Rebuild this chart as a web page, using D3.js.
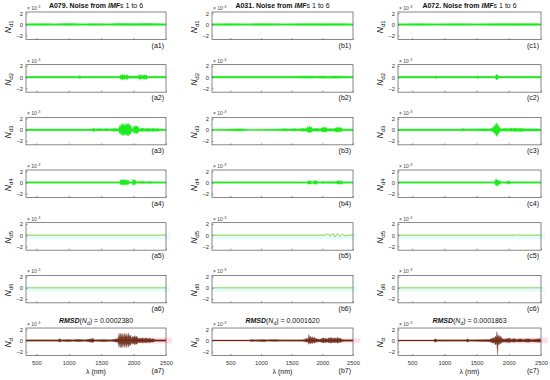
<!DOCTYPE html>
<html>
<head>
<meta charset="utf-8">
<script src="https://cdn.jsdelivr.net/npm/d3@7"></script>
<style>
  body { margin: 0; background: #fff; }
  svg { font-family: "Liberation Sans", Arial, sans-serif; }
</style>
</head>
<body>
<div id="chart"></div>
<script>
// ---- data (values in units of 1e-3) ----
const columns = ["a", "b", "c"];
const sampleNames = ["A079", "A031", "A072"];
const rmsdValues = ["0.0002380", "0.0001620", "0.0001863"];
const xStarts = [340, 200, 280];
const xTicks = [500, 1000, 1500, 2000, 2500];
const yTicks = [-2, 0, 2];

// envelopes of the noise bands: [wavelength, upper, lower]
const noiseA = [
  [[340,.15,-.15],[600,.2,-.18],[800,.15,-.15],[1000,.22,-.2],[1200,.15,-.15],[1400,.2,-.2],[1600,.15,-.15],[1800,.22,-.2],[2000,.18,-.18],[2200,.22,-.2],[2500,.15,-.15]],
  [[340,.15,-.15],[1150,.15,-.15],[1170,.3,-.28],[1190,.15,-.15],[1790,.15,-.15],[1800,.45,-.4],[1812,.25,-.3],[1825,.55,-.5],[1840,.3,-.3],[1855,.5,-.45],[1870,.2,-.2],[1900,.5,-.45],[1915,.25,-.25],[1930,.2,-.2],[2070,.2,-.2],[2085,.45,-.4],[2100,.3,-.3],[2115,.5,-.45],[2130,.2,-.2],[2165,.45,-.4],[2180,.3,-.25],[2195,.45,-.45],[2215,.15,-.15],[2500,.15,-.15]],
  [[340,.15,-.15],[1360,.15,-.15],[1385,.35,-.35],[1410,.15,-.15],[1480,.22,-.2],[1520,.15,-.15],[1580,.25,-.2],[1640,.15,-.15],[1700,.25,-.25],[1770,.2,-.2],[1785,.8,-.7],[1795,.5,-.45],[1805,1.0,-.95],[1815,.7,-.6],[1825,1.15,-1.0],[1835,.8,-.75],[1845,1.1,-1.1],[1855,.7,-.6],[1865,1.0,-.95],[1875,.8,-.7],[1885,1.2,-1.1],[1895,.8,-.8],[1905,1.15,-1.05],[1915,.9,-.8],[1925,1.2,-1.15],[1940,.7,-.7],[1955,.9,-.8],[1970,.3,-.3],[1990,.2,-.2],[2005,.7,-.6],[2020,.55,-.5],[2035,.75,-.7],[2050,.6,-.55],[2065,.7,-.65],[2085,.2,-.2],[2140,.35,-.3],[2170,.2,-.2],[2220,.3,-.3],[2260,.2,-.2],[2300,.3,-.28],[2340,.2,-.2],[2370,.3,-.3],[2400,.15,-.15],[2500,.15,-.15]],
  [[340,.12,-.12],[1790,.12,-.12],[1800,.55,-.4],[1812,.35,-.3],[1825,.6,-.5],[1840,.4,-.35],[1855,.55,-.45],[1870,.35,-.3],[1885,.55,-.45],[1900,.3,-.3],[1915,.45,-.4],[1935,.15,-.15],[1980,.15,-.15],[1990,.6,-.5],[2005,.4,-.35],[2020,.55,-.45],[2040,.15,-.15],[2150,.22,-.2],[2190,.15,-.15],[2260,.2,-.2],[2300,.15,-.15],[2500,.12,-.12]],
  null,
  null,
  [[340,.12,-.12],[830,.12,-.12],[860,.3,-.3],[890,.15,-.15],[1000,.2,-.2],[1060,.15,-.15],[1150,.22,-.2],[1250,.15,-.15],[1375,.35,-.35],[1400,.15,-.15],[1550,.2,-.2],[1650,.15,-.15],[1760,.3,-.3],[1775,1.3,-1.2],[1785,.4,-.5],[1795,1.35,-1.3],[1805,.5,-.4],[1815,1.2,-1.35],[1825,.6,-.5],[1835,1.3,-1.2],[1850,.5,-.6],[1865,1.35,-1.3],[1880,.6,-.5],[1895,1.25,-1.3],[1910,.5,-.5],[1925,1.35,-1.2],[1940,.6,-.6],[1955,1.0,-.9],[1970,.3,-.3],[1990,.8,-.7],[2005,.5,-.4],[2020,.9,-.8],[2035,.5,-.5],[2050,.8,-.7],[2070,.3,-.3],[2100,.45,-.4],[2120,.3,-.3],[2140,.5,-.45],[2160,.3,-.3],[2190,.45,-.4],[2220,.3,-.3],[2250,.4,-.35],[2280,.25,-.25],[2300,.35,-.3],[2330,.15,-.15],[2500,.12,-.12]]
];
const noiseB = [
  [[200,.15,-.15],[500,.18,-.18],[800,.15,-.15],[1100,.2,-.18],[1400,.15,-.15],[1700,.2,-.2],[2000,.2,-.18],[2300,.2,-.2],[2500,.15,-.15]],
  [[200,.15,-.15],[1000,.17,-.17],[1500,.16,-.16],[1800,.2,-.2],[1900,.17,-.17],[2000,.22,-.2],[2100,.18,-.18],[2200,.22,-.2],[2400,.17,-.17],[2500,.15,-.15]],
  [[200,.12,-.12],[500,.15,-.15],[650,.2,-.2],[800,.12,-.12],[1300,.15,-.15],[1400,.25,-.2],[1450,.15,-.15],[1550,.22,-.2],[1600,.15,-.15],[1700,.28,-.25],[1740,.2,-.2],[1760,.6,-.5],[1775,.35,-.35],[1790,.7,-.6],[1805,.4,-.35],[1820,.55,-.5],[1840,.2,-.2],[1900,.28,-.25],[1960,.2,-.2],[2030,.5,-.45],[2045,.3,-.3],[2060,.55,-.5],[2080,.2,-.2],[2140,.25,-.25],[2190,.2,-.2],[2240,.45,-.45],[2255,.3,-.3],[2270,.5,-.45],[2285,.3,-.3],[2300,.45,-.4],[2330,.15,-.15],[2500,.15,-.15]],
  [[200,.12,-.12],[1760,.12,-.12],[1775,.4,-.35],[1790,.25,-.25],[1805,.38,-.3],[1820,.2,-.2],[1850,.15,-.15],[1870,.4,-.35],[1885,.25,-.25],[1900,.4,-.38],[1920,.15,-.15],[2000,.15,-.15],[2010,.32,-.25],[2025,.15,-.15],[2150,.2,-.2],[2200,.15,-.15],[2280,.38,-.3],[2295,.2,-.2],[2310,.38,-.35],[2335,.15,-.15],[2500,.12,-.12]],
  null,
  null,
  [[200,.1,-.1],[800,.1,-.1],[850,.2,-.18],[900,.12,-.12],[1050,.2,-.2],[1100,.12,-.12],[1150,.18,-.15],[1250,.2,-.18],[1300,.12,-.12],[1700,.15,-.15],[1750,.4,-.3],[1765,.2,-.2],[1780,1.1,-.7],[1792,.4,-.4],[1805,.8,-.6],[1820,.35,-.35],[1835,.7,-.6],[1850,.4,-.3],[1870,.6,-.5],[1890,.3,-.3],[1910,.3,-.25],[1960,.2,-.2],[2020,.5,-.45],[2035,.25,-.25],[2050,.45,-.4],[2080,.25,-.25],[2110,.55,-.45],[2125,.3,-.3],[2140,.6,-.5],[2170,.3,-.3],[2200,.5,-.4],[2225,.3,-.3],[2250,.6,-.5],[2270,.3,-.3],[2290,.45,-.35],[2320,.2,-.2],[2360,.15,-.15],[2500,.12,-.12]]
];
const noiseC = [
  [[280,.15,-.15],[600,.18,-.18],[900,.15,-.15],[1200,.2,-.18],[1500,.15,-.15],[1800,.2,-.2],[2100,.18,-.18],[2400,.2,-.2],[2500,.15,-.15]],
  [[280,.15,-.15],[850,.15,-.15],[870,.25,-.25],[890,.15,-.15],[1500,.15,-.15],[1520,.25,-.25],[1540,.15,-.15],[1790,.15,-.15],[1800,.4,-.35],[1812,.5,-.5],[1825,.45,-.4],[1840,.15,-.15],[2500,.15,-.15]],
  [[280,.15,-.15],[1250,.15,-.15],[1300,.22,-.2],[1340,.15,-.15],[1450,.18,-.18],[1600,.2,-.2],[1700,.18,-.18],[1745,.3,-.25],[1760,.6,-.5],[1772,.4,-.4],[1785,1.0,-.85],[1795,.7,-.6],[1805,1.3,-1.1],[1815,.9,-1.2],[1825,1.1,-.9],[1835,.6,-.7],[1845,.8,-.7],[1860,.3,-.3],[1900,.2,-.2],[1950,.28,-.25],[2000,.2,-.2],[2030,.35,-.3],[2060,.25,-.25],[2100,.35,-.3],[2140,.25,-.25],[2200,.3,-.3],[2250,.2,-.2],[2440,.2,-.2],[2500,.15,-.15]],
  [[280,.12,-.12],[1780,.12,-.12],[1790,.6,-.5],[1800,.3,-.35],[1810,.7,-.65],[1820,.35,-.4],[1830,.5,-.7],[1845,.3,-.3],[1860,.35,-.3],[1880,.15,-.15],[1960,.15,-.15],[1975,.3,-.25],[1990,.18,-.18],[2010,.3,-.3],[2030,.15,-.15],[2200,.15,-.15],[2500,.12,-.12]],
  null,
  null,
  [[280,.1,-.1],[830,.1,-.1],[860,.3,-.3],[890,.12,-.12],[1000,.15,-.15],[1100,.12,-.12],[1340,.15,-.15],[1360,.3,-.3],[1390,.12,-.12],[1700,.2,-.2],[1760,.5,-.5],[1775,.3,-.3],[1790,.8,-.8],[1805,.5,-.5],[1815,1.6,-.9],[1825,.9,-2.6],[1835,.7,-.6],[1850,1.0,-.8],[1862,.4,-.4],[1875,.8,-.6],[1895,.3,-.3],[1930,.25,-.25],[2020,.4,-.35],[2040,.2,-.2],[2080,.35,-.3],[2120,.2,-.2],[2180,.3,-.25],[2220,.2,-.2],[2300,.3,-.3],[2350,.2,-.2],[2420,.25,-.25],[2480,.3,-.3],[2500,.15,-.15]]
];
// smooth residual modes (rows 5 and 6): [wavelength, value]
const smoothA = [[[340,0],[2500,0]], [[340,0],[2500,0]]];
const smoothB = [
  [[200,0],[2050,0],[2090,.25],[2130,-.2],[2170,.3],[2210,-.35],[2250,.3],[2290,-.3],[2330,.2],[2370,-.15],[2410,0],[2500,0]],
  [[200,0],[2500,0]]
];
const smoothC = [[[280,0],[2120,0],[2135,.12],[2150,0],[2500,0]], [[280,0],[2500,0]]];
// shaded spread of the summed noise (row 7): [from, to, half-width]
const spreadBands = [[1720, 2590, .55], [1680, 2620, .4], [1740, 2600, .5]];

const noiseSets = [noiseA, noiseB, noiseC];
const smoothSets = [smoothA, smoothB, smoothC];

// ---- layout ----
const W = 550, H = 380;
const colLeft = [26, 212, 398], colRight = [166, 353, 541];
const rowTop0 = 12, rowStep = 52.67, boxH = 27.5;

const svg = d3.select("#chart").append("svg").attr("width", W).attr("height", H);

const green = "#1fea1f", olive = "#9fcf3f", sumColor = "#5e200a";

columns.forEach((col, ci) => {
  const x = d3.scaleLinear().domain([xStarts[ci], 2500]).range([colLeft[ci], colRight[ci]]);
  const cx = (colLeft[ci] + colRight[ci]) / 2;

  // column title
  const t = svg.append("text").attr("x", cx).attr("y", 8).attr("text-anchor", "middle")
    .attr("font-size", 7).attr("fill", "#111");
  t.append("tspan").attr("font-weight", "bold").text(sampleNames[ci] + ". Noise from ");
  t.append("tspan").attr("font-weight", "bold").attr("font-style", "italic").text("IMF");
  t.append("tspan").text("s 1 to 6");

  for (let r = 0; r < 7; r++) {
    const top = rowTop0 + r * rowStep, bottom = top + boxH;
    const y = d3.scaleLinear().domain([-2.7, 2.25]).range([bottom, top]);
    const g = svg.append("g");
    const clipId = `clip-${col}${r}`;
    svg.append("clipPath").attr("id", clipId).append("rect")
      .attr("x", colLeft[ci]).attr("y", top).attr("width", colRight[ci] - colLeft[ci]).attr("height", boxH);

    if (r === 4 || r === 5) {
      g.append("rect").attr("x", x(xStarts[ci])).attr("width", x(2560) - x(xStarts[ci]))
        .attr("y", y(0.3)).attr("height", y(-0.75) - y(0.3)).attr("fill", "#e6fbfd");
      const line = d3.line().x(d => x(d[0])).y(d => y(d[1]));
      g.append("path").datum(smoothSets[ci][r - 4]).attr("d", line)
        .attr("fill", "none").attr("stroke", olive).attr("stroke-width", 1)
        .attr("clip-path", `url(#${clipId})`);
    } else {
      const env = noiseSets[ci][r];
      if (r === 6) {
        const b = spreadBands[ci];
        g.append("rect").attr("x", x(b[0])).attr("width", x(b[1]) - x(b[0]))
          .attr("y", y(b[2])).attr("height", y(-b[2]) - y(b[2])).attr("fill", "#ff2a6a").attr("opacity", 0.16);
        g.append("line").attr("x1", x(xStarts[ci])).attr("x2", x(2500)).attr("y1", y(0)).attr("y2", y(0))
          .attr("stroke", "#ff2020").attr("stroke-width", 1.2);
      }
      const area = d3.area().x(d => x(d[0])).y0(d => y(d[2])).y1(d => y(d[1]));
      g.append("path").datum(env).attr("d", area)
        .attr("fill", r === 6 ? sumColor : green)
        .attr("stroke", r === 6 ? sumColor : green).attr("stroke-width", 0.3)
        .attr("opacity", r === 6 ? 0.85 : 1)
        .attr("clip-path", `url(#${clipId})`);
    }

    // axes with inward ticks
    const yAxis = d3.axisLeft(y).tickValues(yTicks).tickSize(-1.5).tickPadding(3).tickFormat(d3.format("d"));
    const ya = g.append("g").attr("transform", `translate(${colLeft[ci]},0)`).call(yAxis);
    const xAxis = d3.axisBottom(x).tickValues(xTicks).tickSize(-1.5).tickPadding(5)
      .tickFormat(r === 6 ? d3.format("d") : "");
    const xa = g.append("g").attr("transform", `translate(0,${bottom})`).call(xAxis);
    [ya, xa].forEach(a => {
      a.select(".domain").remove();
      a.selectAll(".tick line").attr("stroke", "#555").attr("stroke-width", 0.6);
      a.selectAll(".tick text").attr("font-size", 5.8).attr("fill", "#333")
        .attr("font-family", "Liberation Sans, Arial, sans-serif");
    });

    g.append("rect").attr("x", colLeft[ci]).attr("y", top)
      .attr("width", colRight[ci] - colLeft[ci]).attr("height", boxH)
      .attr("fill", "none").attr("stroke", "#555").attr("stroke-width", 0.7);

    // exponent label
    const e = g.append("text").attr("x", colLeft[ci] + 1).attr("y", top - 2)
      .attr("font-size", 5).attr("fill", "#444");
    e.append("tspan").text("\u00d7 10");
    e.append("tspan").attr("font-size", 3.8).attr("dy", -2).text("-3");

    // y label
    const yl = g.append("text")
      .attr("transform", `translate(${colLeft[ci] - 15},${top + boxH / 2 + 1}) rotate(-90)`)
      .attr("text-anchor", "middle").attr("font-size", 8.5).attr("fill", "#111");
    yl.append("tspan").attr("font-style", "italic").text("N");
    yl.append("tspan").attr("font-size", 6).attr("dy", 2).text(r === 6 ? "d" : "d" + (r + 1));

    // panel label
    g.append("text").attr("x", colRight[ci] - 2).attr("y", r === 6 ? 373 : bottom + 8)
      .attr("text-anchor", "end").attr("font-size", 7).attr("fill", "#111")
      .text(`(${col}${r + 1})`);

    if (r === 6) {
      const rt = g.append("text").attr("x", cx).attr("y", top - 5).attr("text-anchor", "middle")
        .attr("font-size", 7).attr("fill", "#111");
      rt.append("tspan").attr("font-weight", "bold").attr("font-style", "italic").text("RMSD");
      rt.append("tspan").text("(");
      rt.append("tspan").attr("font-style", "italic").text("N");
      rt.append("tspan").attr("font-size", 5).attr("dy", 1.5).text("d");
      rt.append("tspan").attr("dy", -1.5).text(") = " + rmsdValues[ci]);

      const xl = g.append("text").attr("x", cx).attr("y", 374).attr("text-anchor", "middle")
        .attr("font-size", 7).attr("fill", "#111");
      xl.append("tspan").text("\u03bb (nm)");
    }
  }
});
</script>
</body>
</html>
